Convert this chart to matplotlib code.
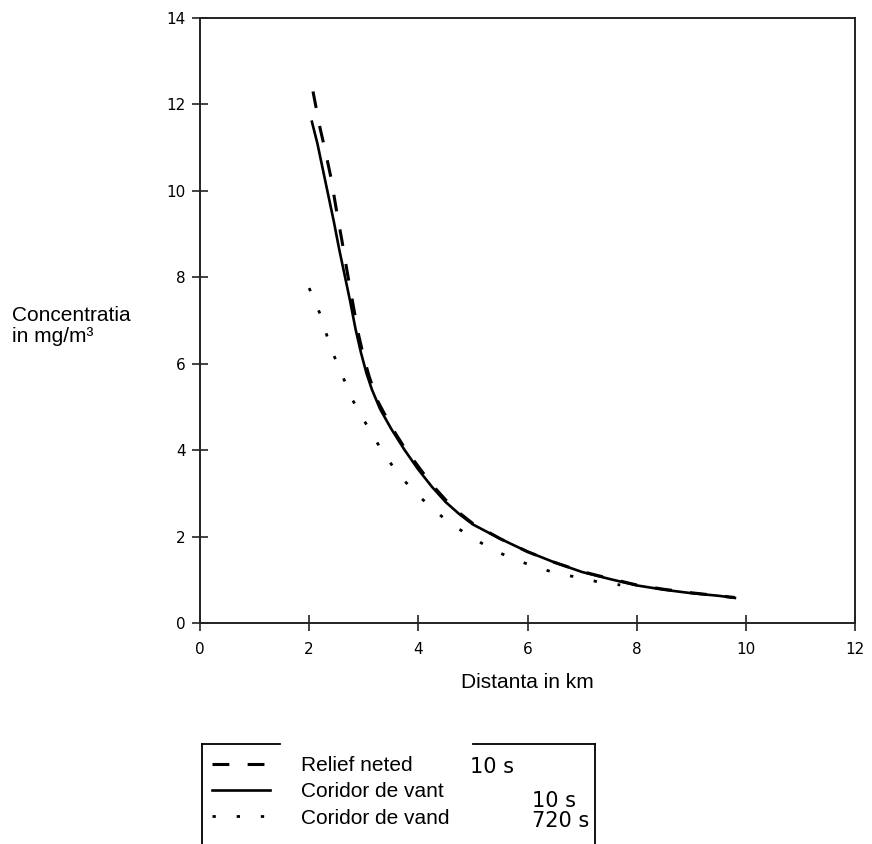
import numpy as np
import matplotlib
matplotlib.use("Agg")
import matplotlib.pyplot as plt
from matplotlib.lines import Line2D

# date
x_relief = [2.07, 2.2, 2.3, 2.4, 2.5, 2.6, 2.7, 2.8, 2.9, 3.0, 3.1, 3.25, 3.5, 3.75, 4.0, 4.25, 4.5,
            4.75, 5.0, 5.5, 6.0, 6.5, 7.0, 7.5, 8.0, 8.5, 9.0, 9.5, 9.8]
y_relief = [12.3, 11.45, 10.9, 10.3, 9.55, 8.85, 8.1, 7.4, 6.7, 6.15, 5.7, 5.15, 4.55, 4.05, 3.62, 3.2, 2.85,
            2.55, 2.3, 1.95, 1.65, 1.4, 1.19, 1.03, 0.88, 0.78, 0.7, 0.63, 0.59]

x_vant = [2.05, 2.15, 2.25, 2.35, 2.45, 2.55, 2.65, 2.75, 2.85, 2.95, 3.05, 3.15, 3.3, 3.5, 3.75, 4.0,
          4.25, 4.5, 4.75, 5.0, 5.5, 6.0, 6.5, 7.0, 7.5, 8.0, 8.5, 9.0, 9.5, 9.8]
y_vant = [11.6, 11.1, 10.5, 9.9, 9.3, 8.65, 8.05, 7.45, 6.8, 6.25, 5.78, 5.4, 4.95, 4.5, 4.0, 3.55,
          3.15, 2.8, 2.52, 2.28, 1.95, 1.65, 1.4, 1.18, 1.02, 0.87, 0.77, 0.69, 0.63, 0.58]

x_vand = [2.0, 2.2, 2.4, 2.6, 2.8, 3.0, 3.2, 3.4, 3.7, 4.0, 4.3, 4.6, 5.0, 5.3, 5.7, 6.1, 6.5, 6.9, 7.3, 7.7]
y_vand = [7.75, 7.15, 6.35, 5.75, 5.15, 4.7, 4.27, 3.85, 3.35, 2.95, 2.6, 2.29, 1.97, 1.74, 1.5, 1.32, 1.16, 1.06, 0.95, 0.88]

etichete = ['Relief neted', 'Coridor de vant', 'Coridor de vand']
timpi = ['10 s', '10 s', '720 s']
x_ticks = [0, 2, 4, 6, 8, 10, 12]
y_ticks = [0, 2, 4, 6, 8, 10, 12, 14]

W, H = 872, 844
fig = plt.figure(figsize=(W / 100, H / 100), dpi=100)
ax = fig.add_axes([200 / W, 1 - 623 / H, 655 / W, 605 / H])

l1, = ax.plot(x_relief, y_relief, color='black', lw=2.2, linestyle=(0, (5.5, 6)), solid_capstyle='butt')
l2, = ax.plot(x_vant, y_vant, color='black', lw=1.9)
l3, = ax.plot(x_vand, y_vand, color='black', lw=2.0, linestyle=(0, (1.2, 7.5)))

ax.set_xlim(0, 12)
ax.set_ylim(0, 14)
ax.set_xticks(x_ticks)
ax.set_yticks(y_ticks)
for s in ax.spines.values():
    s.set_linewidth(1.4)
    s.set_color('#222222')
ax.tick_params(direction='inout', length=11, width=1.2, color='#222222')
ax.tick_params(axis='x', pad=8)
ax.tick_params(axis='y', pad=5)
for lab in ax.get_xticklabels() + ax.get_yticklabels():
    lab.set_fontsize(11)

fig.text(12 / W, 1 - 306 / H, 'Concentratia\nin mg/m³', family='Liberation Sans',
         fontsize=15, ha='left', va='top', linespacing=1.15)
fig.text(527 / W, 1 - 683 / H, 'Distanta in km', family='Liberation Sans',
         fontsize=15, ha='center', va='center')

# legenda
fig.legend([l1, l2, l3], etichete, loc='upper left', bbox_to_anchor=(212 / W, 1 - 756 / H),
           frameon=False, borderpad=0, borderaxespad=0, handlelength=2.8, handletextpad=1.45,
           labelspacing=0.35, prop={'family': 'Liberation Sans', 'size': 15})
fig.add_artist(Line2D([202 / W, 202 / W], [0, 1 - 744 / H], color='black', lw=1.3))
fig.add_artist(Line2D([595 / W, 595 / W], [0, 1 - 744 / H], color='black', lw=1.3))
fig.add_artist(Line2D([202 / W, 280 / W], [1 - 744 / H, 1 - 744 / H], color='black', lw=1.3))
fig.add_artist(Line2D([473 / W, 595 / W], [1 - 744 / H, 1 - 744 / H], color='black', lw=1.3))

poz_timp = [(470, 767), (532, 801), (532, 821)]
for (px, py), t in zip(poz_timp, timpi):
    fig.text(px / W, 1 - py / H, t, fontsize=15, ha='left', va='center')

fig.savefig('out.png', dpi=100)
